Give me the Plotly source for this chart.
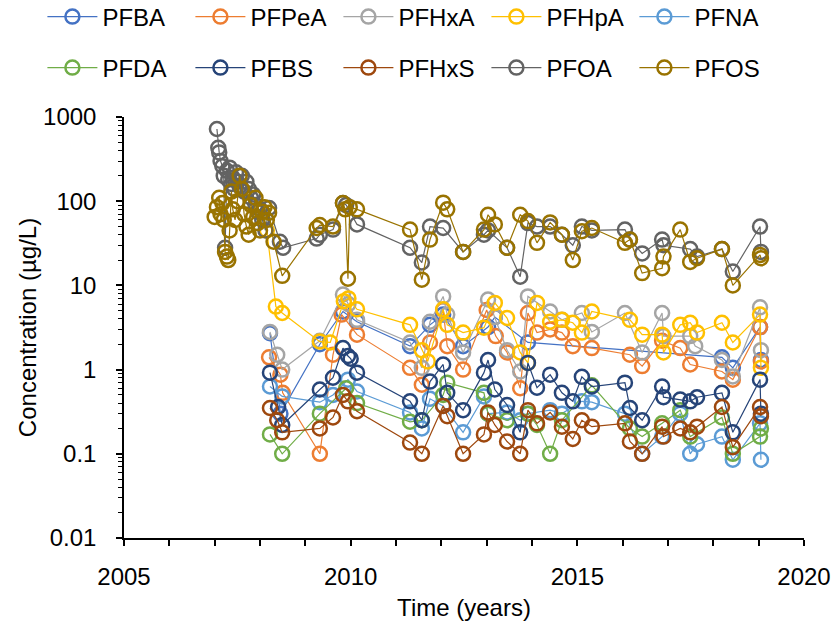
import plotly.graph_objects as go

# ---------------- data ----------------
series_names = ["PFBA", "PFPeA", "PFHxA", "PFHpA", "PFNA",
                "PFDA", "PFBS", "PFHxS", "PFOA", "PFOS"]
series_colors = ["#4472C4", "#ED7D31", "#A5A5A5", "#FFC000", "#5B9BD5",
                 "#70AD47", "#264478", "#9E480E", "#636363", "#997300"]

PFBA_t = [2008.22, 2008.45, 2009.32, 2009.83, 2010.14, 2011.31, 2011.75, 2012.04,
          2012.48, 2013.03, 2013.18, 2013.91, 2018.19, 2018.43, 2019.03, 2019.05]
PFBA_v = [2.7, 0.3, 2.0, 4.9, 3.7, 1.9, 3.4, 4.5,
          1.9, 3.2, 4.2, 2.1, 1.4, 1.05, 3.2, 1.3]

PFPeA_t = [2008.20, 2008.45, 2008.50, 2009.32, 2009.61, 2009.80, 2010.14, 2011.31,
           2011.57, 2011.75, 2012.04, 2012.13, 2012.48, 2013.00, 2013.20, 2013.45,
           2013.74, 2013.91, 2014.11, 2014.40, 2014.66, 2014.90, 2015.32, 2016.16,
           2016.43, 2016.87, 2017.27, 2017.49, 2018.19, 2018.43, 2019.03, 2019.05]
PFPeA_v = [1.4, 0.87, 0.53, 0.1, 1.5, 4.5, 2.6, 1.05,
           0.66, 2.1, 5.1, 1.9, 1.0, 5.1, 2.5, 1.6,
           0.6, 4.7, 2.75, 3.0, 2.75, 1.9, 1.8, 1.5,
           1.1, 2.2, 1.8, 1.15, 0.95, 0.76, 3.2, 1.25]

PFHxA_t = [2008.22, 2008.38, 2008.49, 2009.32, 2009.83, 2009.95, 2010.14, 2011.31,
           2011.57, 2011.75, 2012.04, 2012.13, 2012.48, 2013.03, 2013.18, 2013.45,
           2013.74, 2013.91, 2014.40, 2014.66, 2015.10, 2015.32, 2016.05, 2016.43,
           2016.87, 2016.90, 2017.49, 2017.60, 2018.19, 2018.43, 2019.03, 2019.05]
PFHxA_v = [2.8, 1.5, 1.0, 2.2, 7.8, 6.0, 3.9, 2.1,
           1.05, 3.7, 7.4, 4.5, 1.6, 6.8, 4.2, 1.7,
           0.95, 7.4, 4.9, 3.9, 4.7, 2.8, 4.7, 1.6,
           4.7, 2.5, 2.5, 1.9, 1.3, 0.83, 5.5, 1.7]

PFHpA_t = [2008.15, 2008.35, 2008.49, 2009.32, 2009.55, 2009.85, 2009.95, 2010.14,
           2011.31, 2011.57, 2011.70, 2012.04, 2012.13, 2012.48, 2012.94, 2013.18,
           2013.45, 2013.74, 2013.91, 2014.11, 2014.40, 2014.66, 2014.90, 2015.10,
           2015.32, 2016.16, 2016.43, 2016.87, 2016.90, 2017.27, 2017.49, 2017.64,
           2018.19, 2018.43, 2019.03, 2019.05]
PFHpA_v = [45, 5.6, 4.7, 2.15, 2.1, 6.5, 7.0, 5.2,
           3.4, 1.7, 1.25, 5.2, 3.4, 2.75, 3.15, 6.2,
           4.1, 1.6, 1.2, 6.2, 3.7, 3.9, 3.6, 2.75,
           4.9, 3.9, 2.6, 2.6, 1.6, 3.4, 3.6, 2.75,
           3.6, 2.1, 4.5, 1.05]

PFNA_t = [2008.22, 2008.49, 2009.32, 2009.61, 2009.94, 2010.14, 2011.31, 2011.57,
          2011.75, 2012.04, 2012.48, 2012.94, 2013.03, 2013.45, 2013.74, 2013.91,
          2014.40, 2014.66, 2015.10, 2015.32, 2016.05, 2016.43, 2016.87, 2017.27,
          2017.49, 2017.64, 2018.19, 2018.43, 2019.03, 2019.05]
PFNA_v = [0.63, 0.48, 0.41, 0.5, 0.76, 0.55, 0.31, 0.2,
          0.45, 0.37, 0.18, 0.48, 0.3, 0.31, 0.25, 0.3,
          0.33, 0.3, 0.42, 0.41, 0.3, 0.1, 0.16, 0.3,
          0.1, 0.13, 0.16, 0.085, 0.23, 0.085]

PFDA_t = [2008.22, 2008.49, 2009.32, 2009.90, 2010.14, 2011.31, 2011.57, 2012.04,
          2012.13, 2012.94, 2013.03, 2013.45, 2013.91, 2014.11, 2014.40, 2014.66,
          2015.32, 2016.16, 2016.43, 2016.87, 2017.27, 2017.49, 2018.19, 2018.43,
          2019.03, 2019.05]
PFDA_v = [0.17, 0.1, 0.3, 0.6, 0.4, 0.24, 0.25, 0.5,
          0.7, 0.53, 0.3, 0.25, 0.3, 0.22, 0.1, 0.25,
          0.65, 0.2, 0.16, 0.23, 0.33, 0.16, 0.27, 0.1,
          0.16, 0.2]

PFBS_t = [2008.22, 2008.40, 2008.49, 2009.32, 2009.61, 2009.83, 2009.94, 2010.00,
          2010.14, 2011.31, 2011.57, 2011.75, 2012.04, 2012.13, 2012.48, 2012.94,
          2013.03, 2013.18, 2013.45, 2013.74, 2013.91, 2014.11, 2014.40, 2014.66,
          2014.90, 2015.10, 2015.32, 2016.05, 2016.16, 2016.43, 2016.87, 2016.90,
          2017.27, 2017.49, 2017.64, 2018.19, 2018.43, 2019.03, 2019.05]
PFBS_v = [0.92, 0.36, 0.22, 0.58, 0.8, 1.8, 1.45, 1.35,
          0.92, 0.42, 0.25, 0.72, 1.15, 0.53, 0.33, 0.92,
          1.3, 0.58, 0.38, 0.18, 1.2, 0.61, 0.87, 0.53,
          0.42, 0.82, 0.63, 0.7, 0.35, 0.25, 0.63, 0.47,
          0.44, 0.42, 0.47, 0.53, 0.18, 0.76, 0.3]

PFHxS_t = [2008.22, 2008.38, 2008.49, 2009.32, 2009.61, 2009.83, 2009.94, 2010.14,
           2011.31, 2011.57, 2012.04, 2012.13, 2012.48, 2012.94, 2013.03, 2013.18,
           2013.45, 2013.74, 2013.91, 2014.11, 2014.40, 2014.66, 2014.90, 2015.10,
           2015.32, 2016.05, 2016.16, 2016.43, 2016.87, 2016.90, 2017.27, 2017.49,
           2017.64, 2018.19, 2018.43, 2019.03, 2019.05]
PFHxS_v = [0.35, 0.25, 0.18, 0.2, 0.27, 0.5, 0.42, 0.32,
           0.136, 0.1, 0.37, 0.28, 0.1, 0.17, 0.31, 0.22,
           0.14, 0.1, 0.33, 0.23, 0.31, 0.21, 0.15, 0.25,
           0.21, 0.23, 0.14, 0.1, 0.21, 0.16, 0.2, 0.18,
           0.21, 0.36, 0.12, 0.36, 0.28]

PFOA_t = [2007.05, 2007.08, 2007.10, 2007.13, 2007.17, 2007.20, 2007.23, 2007.27,
          2007.30, 2007.33, 2007.37, 2007.40, 2007.43, 2007.47, 2007.50, 2007.55,
          2007.60, 2007.65, 2007.70, 2007.75, 2007.80, 2007.85, 2007.90, 2007.95,
          2008.00, 2008.05, 2008.12, 2008.20, 2008.44, 2008.51, 2009.25, 2009.32,
          2009.61, 2009.83, 2009.90, 2010.14, 2011.31, 2011.57, 2011.75, 2012.04,
          2012.48, 2012.94, 2013.03, 2013.45, 2013.74, 2013.91, 2014.11, 2014.40,
          2014.66, 2014.90, 2015.10, 2015.32, 2016.05, 2016.16, 2016.43, 2016.87,
          2016.90, 2017.49, 2017.64, 2018.19, 2018.43, 2019.03, 2019.05]
PFOA_v = [720, 430, 380, 300, 260, 200, 28, 230,
          180, 250, 160, 190, 140, 220, 170, 150,
          200, 130, 170, 140, 110, 120, 90, 75,
          80, 60, 45, 83, 33, 28, 36, 40,
          46, 95, 90, 53, 28, 18.7, 50, 48,
          25, 40, 45, 28, 12.7, 55, 50, 50,
          40, 30, 50, 45, 46, 35, 24, 35,
          30, 27, 22, 27, 14.6, 50, 25]

PFOS_t = [2007.00, 2007.05, 2007.10, 2007.13, 2007.17, 2007.20, 2007.23, 2007.27,
          2007.30, 2007.33, 2007.37, 2007.40, 2007.45, 2007.50, 2007.55, 2007.60,
          2007.65, 2007.70, 2007.75, 2007.80, 2007.85, 2007.90, 2007.95, 2008.00,
          2008.05, 2008.10, 2008.15, 2008.20, 2008.30, 2008.49, 2009.25, 2009.32,
          2009.61, 2009.83, 2009.88, 2009.94, 2009.98, 2010.14, 2011.31, 2011.57,
          2011.75, 2012.04, 2012.13, 2012.48, 2012.94, 2013.03, 2013.18, 2013.45,
          2013.74, 2013.91, 2014.11, 2014.40, 2014.66, 2014.90, 2015.10, 2015.32,
          2016.05, 2016.16, 2016.43, 2016.87, 2016.90, 2017.27, 2017.49, 2017.64,
          2018.19, 2018.43, 2019.03, 2019.05]
PFOS_v = [65, 85, 110, 70, 95, 60, 25, 22,
          20, 45, 130, 80, 60, 100, 200, 140,
          70, 50, 40, 90, 65, 110, 55, 45,
          75, 85, 60, 73, 33, 13, 48, 52,
          50, 95, 80, 12, 85, 80, 46, 11.7,
          35, 96, 80, 25, 46, 69, 53, 28,
          69, 58, 32, 56, 40, 20, 44, 48,
          32, 35, 14, 16, 22, 46, 19, 21,
          27, 10, 23, 21]

series_t = [PFBA_t, PFPeA_t, PFHxA_t, PFHpA_t, PFNA_t,
            PFDA_t, PFBS_t, PFHxS_t, PFOA_t, PFOS_t]
series_v = [PFBA_v, PFPeA_v, PFHxA_v, PFHpA_v, PFNA_v,
            PFDA_v, PFBS_v, PFHxS_v, PFOA_v, PFOS_v]

y_tickvals = [0.01, 0.1, 1, 10, 100, 1000]
y_ticktext = ["0.01", "0.1", "1", "10", "100", "1000"]

FONT = "Liberation Sans, Arial, sans-serif"

# ---------------- figure ----------------
fig = go.Figure()
for i, (name, col, t, v) in enumerate(zip(series_names, series_colors, series_t, series_v)):
    assert len(t) == len(v), name
    fig.add_trace(go.Scatter(
        x=t, y=v, name=name, mode="lines+markers",
        line=dict(color=col, width=1.2),
        marker=dict(symbol="circle-open", size=14, color=col, line=dict(width=2.5)),
        legend="legend" if i < 5 else "legend2",
    ))

legend_common = dict(
    orientation="h", xanchor="left", yanchor="middle",
    entrywidth=83, entrywidthmode="pixels", itemwidth=50,
    font=dict(family=FONT, size=24, color="#000000"),
    bgcolor="rgba(0,0,0,0)", borderwidth=0,
)

fig.update_layout(
    width=840, height=632,
    margin=dict(l=124, r=36, t=117, b=94, autoexpand=False),
    paper_bgcolor="white", plot_bgcolor="white",
    font=dict(family=FONT, size=24, color="#000000"),
    showlegend=True,
    legend=dict(x=-0.12, y=1.2375, **legend_common),
    legend2=dict(x=-0.12, y=1.1164, **legend_common),
    xaxis=dict(
        range=[2005, 2020], tick0=2005, dtick=5,
        showgrid=False, zeroline=False,
        showline=True, linecolor="black", linewidth=1.5,
        ticks="outside", ticklen=6, tickwidth=1.5, tickcolor="black",
        minor=dict(ticks="outside", ticklen=6, tickwidth=1.5, tickcolor="black", dtick=1, showgrid=False),
        tickfont=dict(family=FONT, size=24),
        ticklabelstandoff=10,
        title=dict(text="Time (years)", font=dict(family=FONT, size=24), standoff=11),
    ),
    yaxis=dict(
        type="log", range=[-2, 3],
        tickvals=y_tickvals, ticktext=y_ticktext,
        showgrid=False, zeroline=False,
        showline=True, linecolor="black", linewidth=1.5,
        ticks="outside", ticklen=6, tickwidth=1.5, tickcolor="black",
        minor=dict(ticks="outside", ticklen=4, tickwidth=1.2, tickcolor="black",
                   dtick="D1", showgrid=False),
        tickfont=dict(family=FONT, size=24),
        ticklabelstandoff=15,
        title=dict(text="Concentration (µg/L)", font=dict(family=FONT, size=24), standoff=0),
    ),
)

fig.write_html("out.html")
